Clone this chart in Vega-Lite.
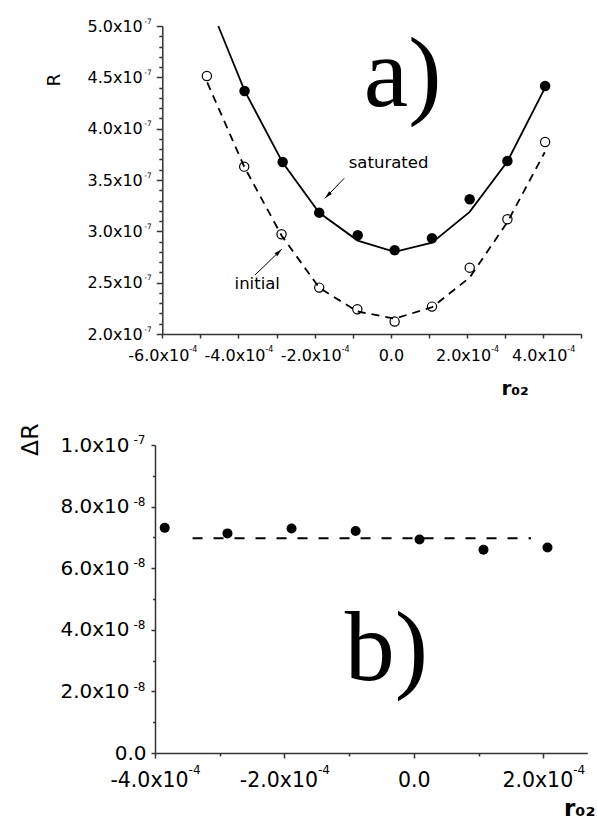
{
  "$schema": "https://vega.github.io/schema/vega-lite/v6.json",
  "padding": {"left": 18, "top": 17, "right": 0, "bottom": 0},
  "spacing": 24,
  "config": {
    "view": {"stroke": null},
    "font": "DejaVu Sans",
    "axis": {
      "grid": false,
      "labelFlush": false,
      "labelOverlap": false,
      "domainColor": "#333333",
      "tickColor": "#333333",
      "domainWidth": 1.5,
      "tickWidth": 1.5,
      "labelColor": "#000000",
      "titleColor": "#000000",
      "labelFont": "DejaVu Sans",
      "titleFont": "DejaVu Sans"
    }
  },
  "datasets": {
    "sat_pts": [
      {"x": -0.000384, "y": 4.367e-7},
      {"x": -0.000284, "y": 3.676e-7},
      {"x": -0.000188, "y": 3.182e-7},
      {"x": -0.000087, "y": 2.962e-7},
      {"x": 0.000010, "y": 2.816e-7},
      {"x": 0.000108, "y": 2.933e-7},
      {"x": 0.000207, "y": 3.313e-7},
      {"x": 0.000306, "y": 3.685e-7},
      {"x": 0.000405, "y": 4.416e-7}
    ],
    "ini_pts": [
      {"x": -0.000483, "y": 4.513e-7},
      {"x": -0.000385, "y": 3.630e-7},
      {"x": -0.000287, "y": 2.972e-7},
      {"x": -0.000188, "y": 2.452e-7},
      {"x": -0.000088, "y": 2.241e-7},
      {"x": 0.000010, "y": 2.121e-7},
      {"x": 0.000108, "y": 2.267e-7},
      {"x": 0.000207, "y": 2.646e-7},
      {"x": 0.000306, "y": 3.118e-7},
      {"x": 0.000405, "y": 3.870e-7}
    ],
    "sat_fit": [
      {"x": -0.000453, "y": 5.0e-7},
      {"x": -0.000384, "y": 4.37e-7},
      {"x": -0.000284, "y": 3.67e-7},
      {"x": -0.000188, "y": 3.18e-7},
      {"x": -0.000087, "y": 2.91e-7},
      {"x": 0.000010, "y": 2.80e-7},
      {"x": 0.000108, "y": 2.89e-7},
      {"x": 0.000207, "y": 3.19e-7},
      {"x": 0.000306, "y": 3.68e-7},
      {"x": 0.000405, "y": 4.40e-7}
    ],
    "ini_fit": [
      {"x": -0.000482, "y": 4.45e-7},
      {"x": -0.000385, "y": 3.63e-7},
      {"x": -0.000287, "y": 2.96e-7},
      {"x": -0.000188, "y": 2.45e-7},
      {"x": -0.000088, "y": 2.22e-7},
      {"x": 0.000010, "y": 2.15e-7},
      {"x": 0.000108, "y": 2.26e-7},
      {"x": 0.000207, "y": 2.55e-7},
      {"x": 0.000306, "y": 3.09e-7},
      {"x": 0.000404, "y": 3.77e-7}
    ],
    "top_notes": [
      {"x": -0.000006, "y": 3.614e-7, "label": "saturated"},
      {"x": -0.0003507, "y": 2.436e-7, "label": "initial"}
    ],
    "top_arrows": [
      {"x": -0.0001224, "y": 3.517e-7, "x2": -0.000173, "y2": 3.322e-7},
      {"x": -0.0003565, "y": 2.575e-7, "x2": -0.0002865, "y2": 2.826e-7}
    ],
    "top_heads": [
      {"x": -0.000173, "y": 3.322e-7, "dir": 224},
      {"x": -0.0002865, "y": 2.826e-7, "dir": 46}
    ],
    "top_tag": [{"x": 0.000031, "y": 4.22e-7, "label": "a)"}],
    "dr_pts": [
      {"x": -0.000385, "y": 7.31e-8},
      {"x": -0.000288, "y": 7.13e-8},
      {"x": -0.000189, "y": 7.29e-8},
      {"x": -0.000090, "y": 7.21e-8},
      {"x": 0.0000088, "y": 6.93e-8},
      {"x": 0.0001076, "y": 6.60e-8},
      {"x": 0.0002065, "y": 6.67e-8}
    ],
    "dr_mean": [
      {"x": -0.000342, "y": 6.97e-8},
      {"x": 0.000181, "y": 6.97e-8}
    ],
    "bot_tag": [{"x": -0.0000425, "y": 2.37e-8, "label": "b)"}]
  },
  "vconcat": [
    {
      "width": 426.3,
      "height": 308,
      "resolve": {"axis": {"x": "independent", "y": "independent"}},
      "layer": [
        {
          "encoding": {
            "x": {
              "field": "x", "type": "quantitative",
              "scale": {"domain": [-0.0006, 0.0005], "nice": false, "zero": false, "rangeMin": 7.3},
              "axis": {
                "orient": "bottom",
                "values": [-0.0006, -0.0005, -0.0004, -0.0003, -0.0002, -0.0001, 0, 0.0001, 0.0002, 0.0003, 0.0004, 0.0005],
                "labelExpr": "abs(datum.value*5e3 - round(datum.value*5e3)) > 0.01 ? '' : (abs(datum.value) < 1e-9 ? '0.0' : (datum.value < 0 ? '-' : '') + format(abs(datum.value)*1e4, '.1f') + 'x10')",
                "labelFontSize": 16,
                "labelPadding": 9,
                "labelOffset": {"condition": {"test": "abs(datum.value) < 1e-9", "value": 0}, "value": -4},
                "tickSize": 4,
                "title": "r₀₂",
                "titleFontSize": 20,
                "titleFontWeight": "bold",
                "titleAlign": "left",
                "titleBaseline": "alphabetic",
                "titleX": 346,
                "titleY": 60
              }
            },
            "y": {
              "field": "y", "type": "quantitative",
              "scale": {"domain": [2e-7, 5e-7], "nice": false, "zero": false},
              "axis": {
                "orient": "left",
                "offset": -7.3,
                "values": [2e-7, 2.1e-7, 2.2e-7, 2.3e-7, 2.4e-7, 2.5e-7, 2.6e-7, 2.7e-7, 2.8e-7, 2.9e-7, 3e-7, 3.1e-7, 3.2e-7, 3.3e-7, 3.4e-7, 3.5e-7, 3.6e-7, 3.7e-7, 3.8e-7, 3.9e-7, 4e-7, 4.1e-7, 4.2e-7, 4.3e-7, 4.4e-7, 4.5e-7, 4.6e-7, 4.7e-7, 4.8e-7, 4.9e-7, 5e-7],
                "labelExpr": "abs(datum.value*2e7 - round(datum.value*2e7)) > 0.01 ? '' : format(datum.value*1e7, '.1f') + 'x10'",
                "labelFontSize": 16,
                "labelPadding": 14,
                "tickSize": {"condition": {"test": "abs(datum.value*2e7 - round(datum.value*2e7)) > 0.01", "value": 3.5}, "value": 6},
                "title": "R",
                "titleFontSize": 18.5,
                "titleFontWeight": "normal",
                "titleAngle": 270,
                "titleAlign": "center",
                "titleBaseline": "alphabetic",
                "titleX": -103,
                "titleY": 53.5
              }
            }
          },
          "layer": [
            {"data": {"name": "sat_fit"}, "mark": {"type": "line", "color": "#000000", "strokeWidth": 1.8}},
            {"data": {"name": "ini_fit"}, "mark": {"type": "line", "color": "#000000", "strokeWidth": 1.8, "strokeDash": [8, 6]}},
            {"data": {"name": "sat_pts"}, "mark": {"type": "point", "shape": "circle", "filled": true, "color": "#000000", "size": 110, "opacity": 1}},
            {"data": {"name": "ini_pts"}, "mark": {"type": "point", "shape": "circle", "filled": false, "color": "#000000", "size": 85, "strokeWidth": 1.2, "opacity": 1}},
            {"data": {"name": "top_arrows"}, "mark": {"type": "rule", "color": "#000000", "strokeWidth": 1}, "encoding": {"x2": {"field": "x2"}, "y2": {"field": "y2"}}},
            {"data": {"name": "top_heads"}, "mark": {"type": "point", "shape": "M0,0L-0.5,2L0.5,2Z", "filled": true, "color": "#000000", "size": 64, "opacity": 1}, "encoding": {"angle": {"field": "dir", "type": "quantitative", "scale": null}}},
            {"data": {"name": "top_notes"}, "mark": {"type": "text", "font": "DejaVu Sans", "fontSize": 16.5, "align": "center", "baseline": "alphabetic", "color": "#000000"}, "encoding": {"text": {"field": "label"}}},
            {"data": {"name": "top_tag"}, "mark": {"type": "text", "font": "Liberation Serif", "fontSize": 100, "align": "center", "baseline": "alphabetic", "color": "#000000"}, "encoding": {"text": {"field": "label"}}}
          ]
        },
        {
          "data": {"name": "sat_pts"},
          "mark": {"type": "point", "opacity": 0},
          "encoding": {
            "x": {
              "field": "x", "type": "quantitative",
              "scale": {"domain": [-0.0006, 0.0005], "nice": false, "zero": false, "rangeMin": 7.3},
              "axis": {
                "orient": "bottom",
                "values": [-0.0006, -0.0004, -0.0002, 0.0002, 0.0004],
                "labelExpr": "'-4'",
                "domain": false,
                "tickOpacity": 0,
                "tickSize": 4,
                "labelFontSize": 8,
                "labelAlign": "left",
                "labelBaseline": "top",
                "labelPadding": 7.5,
                "labelOffset": {"condition": {"test": "datum.value < 0", "value": 26.5}, "value": 23.6},
                "title": null
              }
            },
            "y": {
              "field": "y", "type": "quantitative",
              "scale": {"domain": [2e-7, 5e-7], "nice": false, "zero": false},
              "axis": {
                "orient": "left",
                "offset": -7.3,
                "values": [2e-7, 2.5e-7, 3e-7, 3.5e-7, 4e-7, 4.5e-7, 5e-7],
                "labelExpr": "'-7'",
                "domain": false,
                "tickOpacity": 0,
                "tickSize": 6,
                "labelFontSize": 7.5,
                "labelAlign": "right",
                "labelBaseline": "middle",
                "labelPadding": 5,
                "labelOffset": -5,
                "title": null
              }
            }
          }
        }
      ]
    },
    {
      "width": 432.3,
      "height": 308,
      "resolve": {"axis": {"x": "independent", "y": "independent"}},
      "layer": [
        {
          "encoding": {
            "x": {
              "field": "x", "type": "quantitative",
              "scale": {"domain": [-0.0004, 0.000268], "nice": false, "zero": false},
              "axis": {
                "orient": "bottom",
                "values": [-0.0004, -0.0003, -0.0002, -0.0001, 0, 0.0001, 0.0002],
                "labelExpr": "abs(datum.value*5e3 - round(datum.value*5e3)) > 0.01 ? '' : (abs(datum.value) < 1e-9 ? '0.0' : (datum.value < 0 ? '-' : '') + format(abs(datum.value)*1e4, '.1f') + 'x10')",
                "labelFontSize": 20.5,
                "labelPadding": 12,
                "labelOffset": {"condition": {"test": "abs(datum.value) < 1e-9", "value": 0}, "value": -6},
                "tickSize": {"condition": {"test": "abs(datum.value*5e3 - round(datum.value*5e3)) > 0.01", "value": 3}, "value": 5},
                "title": "r₀₂",
                "titleFontSize": 23,
                "titleFontWeight": "bold",
                "titleAlign": "left",
                "titleBaseline": "alphabetic",
                "titleX": 408.5,
                "titleY": 62
              }
            },
            "y": {
              "field": "y", "type": "quantitative",
              "scale": {"domain": [0, 1e-7], "nice": false, "zero": false},
              "axis": {
                "orient": "left",
                "values": [0, 1e-8, 2e-8, 3e-8, 4e-8, 5e-8, 6e-8, 7e-8, 8e-8, 9e-8, 1e-7],
                "labelExpr": "abs(datum.value*5e7 - round(datum.value*5e7)) > 0.01 ? '' : (datum.value < 1e-12 ? '0.0' : (datum.value > 9.9e-8 ? '1.0x10' : format(datum.value*1e8, '.1f') + 'x10'))",
                "labelFontSize": 20,
                "labelPadding": {"condition": {"test": "datum.value < 1e-12", "value": 5}, "value": 22},
                "tickSize": {"condition": {"test": "abs(datum.value*5e7 - round(datum.value*5e7)) > 0.01", "value": 2.5}, "value": 4},
                "title": "ΔR",
                "titleFontSize": 23.5,
                "titleFontWeight": "normal",
                "titleAngle": 270,
                "titleAlign": "center",
                "titleBaseline": "alphabetic",
                "titleX": -117.4,
                "titleY": -5.8
              }
            }
          },
          "layer": [
            {"data": {"name": "dr_mean"}, "mark": {"type": "line", "color": "#000000", "strokeWidth": 2, "strokeDash": [10, 11]}},
            {"data": {"name": "dr_pts"}, "mark": {"type": "point", "shape": "circle", "filled": true, "color": "#000000", "size": 100, "opacity": 1}},
            {"data": {"name": "bot_tag"}, "mark": {"type": "text", "font": "Liberation Serif", "fontSize": 100, "align": "center", "baseline": "alphabetic", "color": "#000000"}, "encoding": {"text": {"field": "label"}}}
          ]
        },
        {
          "data": {"name": "dr_pts"},
          "mark": {"type": "point", "opacity": 0},
          "encoding": {
            "x": {
              "field": "x", "type": "quantitative",
              "scale": {"domain": [-0.0004, 0.000268], "nice": false, "zero": false},
              "axis": {
                "orient": "bottom",
                "values": [-0.0004, -0.0002, 0.0002],
                "labelExpr": "'-4'",
                "domain": false,
                "tickOpacity": 0,
                "tickSize": 5,
                "labelFontSize": 12,
                "labelAlign": "left",
                "labelBaseline": "top",
                "labelPadding": 6.6,
                "labelOffset": {"condition": {"test": "datum.value < 0", "value": 33.1}, "value": 29.4},
                "title": null
              }
            },
            "y": {
              "field": "y", "type": "quantitative",
              "scale": {"domain": [0, 1e-7], "nice": false, "zero": false},
              "axis": {
                "orient": "left",
                "values": [2e-8, 4e-8, 6e-8, 8e-8, 1e-7],
                "labelExpr": "datum.value > 9.9e-8 ? '-7' : '-8'",
                "domain": false,
                "tickOpacity": 0,
                "tickSize": 4,
                "labelFontSize": 12,
                "labelAlign": "right",
                "labelBaseline": "middle",
                "labelPadding": 6,
                "labelOffset": -5.3,
                "title": null
              }
            }
          }
        }
      ]
    }
  ]
}
